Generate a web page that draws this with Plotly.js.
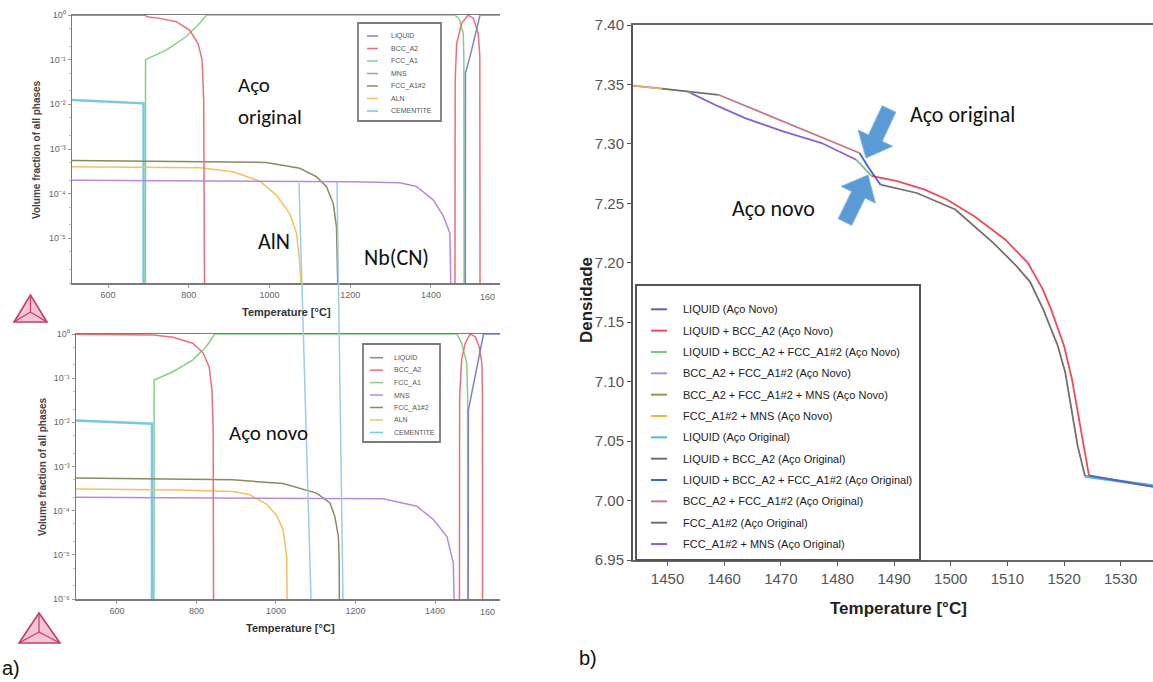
<!DOCTYPE html>
<html><head><meta charset="utf-8">
<script src="https://cdn.plot.ly/plotly-3.0.1.min.js"></script>
<style>html,body{margin:0;padding:0;background:#fff;}#chart{width:1153px;height:682px;}</style>
</head><body><div id="chart"></div>
<script>
const W = 1153, H = 682;

// ---------- a) phase fractions: names and colours ----------
const phaseNames  = ["LIQUID", "BCC_A2", "FCC_A1", "MNS", "FCC_A1#2", "ALN", "CEMENTITE"];
const phaseColors = ["#7b83c9", "#ec6f78", "#86cf86", "#b98ad9", "#8a8a62", "#f4c060", "#76c8ea"];

// Aço original (top)
const orig_LIQUID_T = [1485, 1485.5, 1500, 1510, 1521.5, 1571];
const orig_LIQUID_V = [1e-6, 0.05, 0.155, 0.37, 1.0, 1.0];
const orig_BCC_T = [510, 690, 700, 728, 769, 802, 823, 833, 837, 839, null, 1459.5, 1460, 1463.6, 1476, 1492, 1505, 1517, 1521, 1521.5];
const orig_BCC_V = [0.99, 0.99, 0.9, 0.84, 0.71, 0.46, 0.23, 0.1, 0.0125, 1e-6, null, 1e-6, 0.035, 0.23, 0.65, 0.99, 0.85, 0.39, 0.12, 1e-6];
const orig_FCC_T = [692.6, 693, 745, 794, 827, 844, 1459.5, 1470, 1480, 1481.5, 1482];
const orig_FCC_V = [1e-6, 0.1, 0.165, 0.33, 0.65, 1.0, 1.0, 0.8, 0.39, 0.1, 1e-6];
const orig_MNS_T = [510, 900, 1200, 1323, 1364, 1406, 1431, 1447, 1448.5, 1449];
const orig_MNS_V = [2.0e-4, 1.95e-4, 1.85e-4, 1.75e-4, 1.45e-4, 7.2e-5, 3.1e-5, 1.3e-5, 3e-6, 1e-6];
const orig_FCC2_T = [510, 700, 900, 992, 1075, 1116, 1141, 1158, 1166, 1169];
const orig_FCC2_V = [5.5e-4, 5.4e-4, 5.1e-4, 5.0e-4, 3.7e-4, 2.4e-4, 1.45e-4, 6.0e-5, 1.8e-5, 1e-6];
const orig_ALN_T = [510, 827, 910, 976, 1017, 1050, 1067, 1075, 1078];
const orig_ALN_V = [4.0e-4, 3.8e-4, 3.1e-4, 1.9e-4, 9.3e-5, 3.6e-5, 1.3e-5, 2.8e-6, 1e-6];
const orig_CEM_T = [510, 687, 688, 688];
const orig_CEM_V = [0.0125, 0.0105, 0.0105, 1e-6];

// Aço novo (bottom)
const novo_LIQUID_T = [1483.5, 1484, 1500, 1510, 1522, 1564];
const novo_LIQUID_V = [1e-6, 0.019, 0.1, 0.28, 1.0, 1.0];
const novo_BCC_T = [497, 691, 741, 791, 817, 832, 839, 842, 843, null, 1461.5, 1462, 1467, 1476, 1488, 1501, 1511, 1518, 1519.4, 1519.5];
const novo_BCC_V = [0.99, 0.95, 0.84, 0.62, 0.37, 0.18, 0.054, 0.0068, 1e-6, null, 1e-6, 0.04, 0.26, 0.62, 0.99, 0.87, 0.52, 0.22, 0.04, 1e-6];
const novo_FCC_T = [693, 693.5, 741, 791, 825, 846, 1455, 1467, 1480, 1482, 1482.5];
const novo_FCC_V = [1e-6, 0.091, 0.14, 0.26, 0.52, 1.0, 1.0, 0.62, 0.22, 0.04, 1e-6];
const novo_MNS_T = [497, 900, 1270, 1354, 1396, 1430, 1446, 1448];
const novo_MNS_V = [2.0e-4, 1.95e-4, 1.85e-4, 1.26e-4, 6.3e-5, 2.6e-5, 6.6e-6, 1e-6];
const novo_FCC2_T = [497, 892, 1018, 1102, 1136, 1148, 1157, 1159, 1159.5];
const novo_FCC2_V = [5.5e-4, 5.0e-4, 4.1e-4, 2.5e-4, 1.5e-4, 7.4e-5, 2.6e-5, 6.6e-6, 1e-6];
const novo_ALN_T = [497, 750, 892, 934, 976, 1001, 1018, 1027, 1028];
const novo_ALN_V = [3.1e-4, 2.95e-4, 2.7e-4, 2.3e-4, 1.4e-4, 8.0e-5, 3.7e-5, 9e-6, 1e-6];
const novo_CEM_T = [497, 686, 688, 688];
const novo_CEM_V = [0.011, 0.0093, 0.0093, 1e-6];

const logTickVals = [1, 0.1, 0.01, 0.001, 1e-4, 1e-5, 1e-6];
const logTickText = ["10⁰", "10⁻¹", "10⁻²", "10⁻³", "10⁻⁴", "10⁻⁵", "10⁻⁶"];
const tempTicks = [600, 800, 1000, 1200, 1400];

// ---------- b) density ----------
const densNames = [
  "LIQUID (Aço Novo)", "LIQUID + BCC_A2 (Aço Novo)", "LIQUID + BCC_A2 + FCC_A1#2 (Aço Novo)",
  "BCC_A2 + FCC_A1#2 (Aço Novo)", "BCC_A2 + FCC_A1#2 + MNS (Aço Novo)", "FCC_A1#2 + MNS (Aço Novo)",
  "LIQUID (Aço Original)", "LIQUID + BCC_A2 (Aço Original)", "LIQUID + BCC_A2 + FCC_A1#2 (Aço Original)",
  "BCC_A2 + FCC_A1#2 (Aço Original)", "FCC_A1#2 (Aço Original)", "FCC_A1#2 + MNS (Aço Original)"];
const densColors = ["#5f63b4", "#ee4b58", "#7cc47a", "#b68ccf", "#8e9c46", "#f2b544",
                    "#4fb6ea", "#7a6e6a", "#3f63dc", "#c27a84", "#727272", "#8a5cf0"];

const novo_LIQ_dT = [1524.4, 1535.7];               const novo_LIQ_d = [7.021, 7.0115];
const novo_LB_dT  = [1486, 1490.7, 1495.4, 1499.4, 1504.2, 1509.6, 1513.6, 1516.2, 1517.7, 1520.0, 1521.4, 1522.4, 1523.4, 1524.4];
const novo_LB_d   = [7.273, 7.2685, 7.2615, 7.253, 7.239, 7.2196, 7.200, 7.178, 7.161, 7.130, 7.102, 7.074, 7.046, 7.021];
const novo_LBF_dT = [1483.3, 1485.3, 1486];          const novo_LBF_d = [7.2867, 7.276, 7.273];
const novo_BF_dT  = [1454.2, 1459, 1463.7, 1470.4, 1477.2, 1483.3];
const novo_BF_d   = [7.3425, 7.3315, 7.3217, 7.3105, 7.3007, 7.2867];
const novo_BFM_dT = [1453.6, 1454.2];                const novo_BFM_d = [7.344, 7.3425];
const novo_FM_dT  = [1443.9, 1449, 1453.6];          const novo_FM_d = [7.349, 7.3465, 7.344];

const orig_LIQ_dT = [1523.7, 1535.7];               const orig_LIQ_d = [7.0205, 7.0125];
const orig_LB_dT  = [1487.6, 1494, 1500.8, 1507.5, 1511.6, 1514, 1516.3, 1518.9, 1520.2, 1521.4, 1522.4, 1523.7];
const orig_LB_d   = [7.2657, 7.2587, 7.2448, 7.2168, 7.1972, 7.184, 7.161, 7.130, 7.108, 7.074, 7.046, 7.0205];
const orig_LBF_dT = [1483.9, 1485.5, 1487.6];        const orig_LBF_d = [7.2923, 7.280, 7.2657];
const orig_BF_dT  = [1459, 1465, 1471, 1477, 1483.9]; const orig_BF_d = [7.3413, 7.3295, 7.3177, 7.3059, 7.2923];
const orig_F_dT   = [1449, 1453.6, 1459];            const orig_F_d = [7.3465, 7.344, 7.3413];
const orig_FM_dT  = [1443.9, 1449];                  const orig_FM_d = [7.349, 7.3465];

// ---------- helpers ----------
const px = x => x / W;
const py = y => 1 - y / H;
const traces = [];
function line(x, y, color, width, xa, ya) {
  traces.push({x: x, y: y, type: "scatter", mode: "lines", connectgaps: false,
    line: {color: color, width: width}, xaxis: xa, yaxis: ya, showlegend: false, hoverinfo: "skip"});
}

// top (original)
line(orig_CEM_T, orig_CEM_V, phaseColors[6], 2.4, "x", "y");
line(orig_FCC_T, orig_FCC_V, phaseColors[2], 1.5, "x", "y");
line(orig_ALN_T, orig_ALN_V, phaseColors[5], 1.5, "x", "y");
line(orig_FCC2_T, orig_FCC2_V, phaseColors[4], 1.5, "x", "y");
line(orig_MNS_T, orig_MNS_V, phaseColors[3], 1.5, "x", "y");
line(orig_BCC_T, orig_BCC_V, phaseColors[1], 1.5, "x", "y");
line(orig_LIQUID_T, orig_LIQUID_V, phaseColors[0], 1.5, "x", "y");
// bottom (novo)
line(novo_CEM_T, novo_CEM_V, phaseColors[6], 2.4, "x2", "y2");
line(novo_FCC_T, novo_FCC_V, phaseColors[2], 1.5, "x2", "y2");
line(novo_ALN_T, novo_ALN_V, phaseColors[5], 1.5, "x2", "y2");
line(novo_FCC2_T, novo_FCC2_V, phaseColors[4], 1.5, "x2", "y2");
line(novo_MNS_T, novo_MNS_V, phaseColors[3], 1.5, "x2", "y2");
line(novo_BCC_T, novo_BCC_V, phaseColors[1], 1.5, "x2", "y2");
line(novo_LIQUID_T, novo_LIQUID_V, phaseColors[0], 1.5, "x2", "y2");
// density
line(orig_LIQ_dT, orig_LIQ_d, densColors[6], 3, "x3", "y3");
line(novo_LIQ_dT, novo_LIQ_d, densColors[0], 2, "x3", "y3");
line(orig_LB_dT, orig_LB_d, densColors[7], 1.8, "x3", "y3");
line(novo_LB_dT, novo_LB_d, densColors[1], 1.8, "x3", "y3");
line(orig_FM_dT, orig_FM_d, densColors[11], 1.8, "x3", "y3");
line(novo_FM_dT, novo_FM_d, densColors[5], 1.5, "x3", "y3");
line(orig_F_dT, orig_F_d, densColors[10], 1.8, "x3", "y3");
line(orig_BF_dT, orig_BF_d, densColors[9], 1.8, "x3", "y3");
line(novo_BFM_dT, novo_BFM_d, densColors[4], 1.8, "x3", "y3");
line(novo_BF_dT, novo_BF_d, "#8d60d8", 1.8, "x3", "y3");
line(novo_LBF_dT, novo_LBF_d, densColors[2], 1.8, "x3", "y3");
line(orig_LBF_dT, orig_LBF_d, densColors[8], 1.8, "x3", "y3");

const smallFont = {family: "Liberation Sans, Arial, sans-serif", size: 9, color: "#666"};
function tempAxis(domain, range, anchor) {
  return {domain: domain, range: range, anchor: anchor, tickmode: "array", tickvals: tempTicks,
    ticks: "outside", ticklen: 3, tickcolor: "#999", tickfont: smallFont, showgrid: false, zeroline: false,
    showline: true, linecolor: "#7a7a7a", linewidth: 1.5, mirror: true, fixedrange: true};
}
function fracAxis(domain, anchor, nTicks) {
  return {type: "log", domain: domain, range: [-6, 0], anchor: anchor, tickmode: "array",
    tickvals: logTickVals.slice(0, nTicks), ticktext: logTickText.slice(0, nTicks),
    ticks: "outside", ticklen: 3, tickcolor: "#999", tickfont: smallFont,
    minor: {ticks: "outside", ticklen: 2, tickcolor: "#bbb", showgrid: false},
    showgrid: false, zeroline: false, showline: true, linecolor: "#7a7a7a", linewidth: 1.5, mirror: false, fixedrange: true};
}

const shapes = [];
const annotations = [];
function ann(text, x, y, opts) {
  annotations.push(Object.assign({text: text, x: px(x), y: py(y), xref: "paper", yref: "paper",
    showarrow: false, xanchor: "center", yanchor: "middle"}, opts || {}));
}
function seg(x0, y0, x1, y1, color, width) {
  shapes.push({type: "line", xref: "paper", yref: "paper", x0: px(x0), y0: py(y0), x1: px(x1), y1: py(y1),
    line: {color: color, width: width}});
}
function rect(x0, y0, x1, y1, color, width, fill) {
  shapes.push({type: "rect", xref: "paper", yref: "paper", x0: px(x0), y0: py(y0), x1: px(x1), y1: py(y1),
    line: {color: color, width: width}, fillcolor: fill || "rgba(0,0,0,0)"});
}
function poly(pts, fill, lineColor, width) {
  const d = pts.map((p, i) => (i ? "L" : "M") + px(p[0]).toFixed(5) + "," + py(p[1]).toFixed(5)).join(" ") + " Z";
  shapes.push({type: "path", xref: "paper", yref: "paper", path: d, fillcolor: fill,
    line: {color: lineColor, width: width}});
}

// Legends for a)
function phaseLegend(x0, y0, x1, y1, firstY, dy, lx0, lx1, tx) {
  rect(x0, y0, x1, y1, "#7a7a7a", 1.8, "#fff");
  phaseNames.forEach((n, i) => {
    const yy = firstY + i * dy;
    seg(lx0, yy, lx1, yy, phaseColors[i], 1.5);
    ann(n, tx, yy, {xanchor: "left", font: {family: "Liberation Sans, Arial", size: 7, color: "#555"}});
  });
}
phaseLegend(358, 23, 441, 121, 36, 12.5, 367, 378, 389);
phaseLegend(363, 344, 440, 442, 357.7, 12.45, 370, 383, 392);

// Legend for b)
rect(636, 285, 920, 560, "#555", 2, "#fff");
densNames.forEach((n, i) => {
  const yy = 309.3 + i * 21.34;
  seg(651, yy, 667, yy, densColors[i], 2);
  ann(n, 681, yy, {xanchor: "left", font: {family: "Liberation Sans, Arial", size: 11, color: "#222"}});
});

// connecting lines drawn across a)
seg(299, 183, 311, 599, "#9ccbee", 1.5);
seg(337, 182, 343, 599, "#9ccbee", 1.5);

// logos
function logo(ax, ay, lx, ly, rx, ry, cx, cy) {
  poly([[ax, ay], [lx, ly], [rx, ry]], "rgba(230,150,175,0.55)", "#c83c6c", 1.6);
  seg(ax, ay, cx, cy, "#c83c6c", 1.2);
  seg(lx, ly, cx, cy, "#c83c6c", 1.2);
  seg(rx, ry, cx, cy, "#c83c6c", 1.2);
}
logo(30.5, 295, 14, 322, 47, 322, 30.5, 312);
logo(39, 613, 19, 643, 60, 643, 39, 632);

// block arrows for b)
function blockArrow(tx, ty, sx, sy, sh, hh, hl, color) {
  const L = Math.hypot(tx - sx, ty - sy), dx = (tx - sx) / L, dy = (ty - sy) / L;
  const nx = -dy, ny = dx, bx = tx - dx * hl, by = ty - dy * hl;
  poly([[sx + nx * sh, sy + ny * sh], [bx + nx * sh, by + ny * sh], [bx + nx * hh, by + ny * hh], [tx, ty],
        [bx - nx * hh, by - ny * hh], [bx - nx * sh, by - ny * sh], [sx - nx * sh, sy - ny * sh]], color, "#7fb3e3", 1);
}
blockArrow(866, 158, 889, 109, 7.5, 19, 22, "#5b9bd5");
blockArrow(868, 175, 845, 222, 7.5, 19, 22, "#5b9bd5");

// texts
ann("<b>Temperature [°C]</b>", 286, 312, {font: {family: "Liberation Sans, Arial", size: 11, color: "#333"}});
ann("<b>Temperature [°C]</b>", 290, 628, {font: {family: "Liberation Sans, Arial", size: 11, color: "#333"}});
ann("<b>Volume fraction of all phases</b>", 36, 150, {textangle: -90, font: {family: "Liberation Sans, Arial", size: 10, color: "#444"}});
ann("<b>Volume fraction of all phases</b>", 43, 467, {textangle: -90, font: {family: "Liberation Sans, Arial", size: 10, color: "#444"}});
ann("160", 487, 297, {font: smallFont});
ann("160", 487, 612, {font: smallFont});
const calFont = {family: "Carlito, Lato, Open Sans, sans-serif", size: 21, color: "#111"};
ann("Aço", 236, 85, {xanchor: "left", font: calFont});
ann("original", 236, 117, {xanchor: "left", font: calFont});
ann("AlN", 274, 241, {font: {family: calFont.family, size: 22, color: "#111"}});
ann("Nb(CN)", 396, 257, {font: {family: calFont.family, size: 22, color: "#111"}});
ann("Aço novo", 268, 433, {font: calFont});
ann("Aço original", 908, 115, {xanchor: "left", font: {family: calFont.family, size: 22, color: "#111"}});
ann("Aço novo", 730, 209, {xanchor: "left", font: {family: calFont.family, size: 22, color: "#111"}});
ann("<b>Densidade</b>", 586, 300, {textangle: -90, font: {family: "Liberation Sans, Arial", size: 17, color: "#222"}});
ann("<b>Temperature [°C]</b>", 898, 608, {font: {family: "Liberation Sans, Arial", size: 17, color: "#222"}});
ann("a)", 0, 668, {xanchor: "left", font: {family: "Liberation Sans, Arial", size: 20, color: "#111"}});
ann("b)", 577, 658, {xanchor: "left", font: {family: "Liberation Sans, Arial", size: 20, color: "#111"}});

const layout = {
  width: W, height: H, margin: {l: 0, r: 0, t: 0, b: 0}, paper_bgcolor: "#fff", plot_bgcolor: "#fff",
  showlegend: false,
  xaxis: tempAxis([px(72), px(500)], [510.8, 1571], "y"),
  yaxis: fracAxis([py(283), py(15)], "x", 6),
  xaxis2: tempAxis([px(76), px(500)], [497, 1563.5], "y2"),
  yaxis2: fracAxis([py(599), py(334)], "x2", 7),
  xaxis3: {domain: [px(633), 1], range: [1443.9, 1535.7], anchor: "y3", tickmode: "linear", tick0: 1450, dtick: 10,
    ticks: "outside", ticklen: 4, tickcolor: "#555", tickfont: {family: "Liberation Sans, Arial", size: 15, color: "#555"},
    showgrid: false, zeroline: false, showline: true, linecolor: "#666", linewidth: 2, mirror: true, fixedrange: true},
  yaxis3: {domain: [py(560), py(25)], range: [6.95, 7.40], anchor: "x3", tickmode: "linear", tick0: 6.95, dtick: 0.05,
    tickformat: ".2f", ticks: "outside", ticklen: 4, tickcolor: "#555",
    tickfont: {family: "Liberation Sans, Arial", size: 15, color: "#555"},
    showgrid: false, zeroline: false, showline: true, linecolor: "#555", linewidth: 2, mirror: false, fixedrange: true},
  shapes: shapes, annotations: annotations
};
Plotly.newPlot("chart", traces, layout, {displayModeBar: false, staticPlot: true});
</script></body></html>
